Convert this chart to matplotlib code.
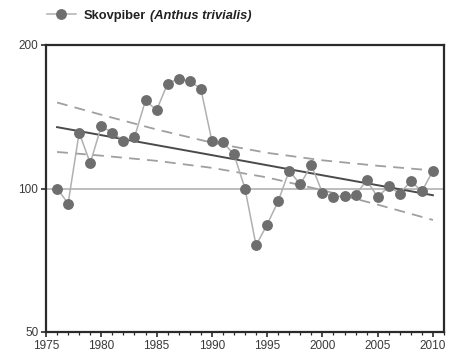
import matplotlib
matplotlib.use('Agg')
import matplotlib.pyplot as plt
from matplotlib.ticker import FixedLocator, MultipleLocator, NullLocator

plt.rcParams['font.family'] = ['Liberation Sans', 'DejaVu Sans']

# Index values (1976-2010)
years = list(range(1976, 2011))
index = [100, 93, 131, 113, 135, 131, 126, 128, 153, 146,
         166, 170, 168, 162, 126, 125, 118, 100, 76, 84,
         94, 109, 102, 112, 98, 96, 96.5, 97, 104, 96,
         101, 97.6, 103.6, 98.6, 109]

# Trend line and its confidence band
band_years = [1976, 1980, 1985, 1990, 1995, 2000, 2005, 2010]
trend = [134.5, 129.4, 123.3, 117.5, 111.9, 106.6, 101.6, 96.8]
upper = [151.5, 142.8, 133.0, 124.8, 118.8, 114.6, 111.6, 109.1]
lower = [119.3, 117.2, 114.3, 110.5, 105.5, 99.2, 92.5, 85.9]

species = 'Skovpiber'
latin = '(Anthus trivialis)'

fig = plt.figure(figsize=(4.54, 3.6), dpi=100)
ax = fig.add_axes([46 / 454, 1 - 332 / 360, 398 / 454, 287 / 360])

ax.axhline(100, color='#bdbdbd', lw=1.4, zorder=1)
ax.plot(band_years, upper, color='#a0a0a0', lw=1.3, ls=(0, (6, 4)), zorder=2)
ax.plot(band_years, lower, color='#a0a0a0', lw=1.3, ls=(0, (6, 4)), zorder=2)
ax.plot(band_years, trend, color='#4a4a4a', lw=1.4, zorder=3)
line, = ax.plot(years, index, color='#b0b0b0', lw=1.1, marker='o', ms=6.8,
                mfc='#6e6e6e', mec='#6e6e6e', zorder=4, label=species)

ax.set_yscale('log')
ax.set_ylim(50, 200)
ax.set_xlim(1975, 2011)
ax.yaxis.set_major_locator(FixedLocator([50, 100, 200]))
ax.yaxis.set_minor_locator(NullLocator())
ax.set_yticklabels(['50', '100', '200'])
ax.xaxis.set_major_locator(MultipleLocator(5))
ax.xaxis.set_minor_locator(MultipleLocator(1))

for s in ax.spines.values():
    s.set_linewidth(1.6)
    s.set_color('#2a2a2a')
ax.tick_params(axis='both', which='major', direction='out', length=3.5,
               width=1.2, color='#2a2a2a', labelsize=8.5, labelcolor='#3a3a3a', pad=2)
ax.tick_params(axis='x', which='minor', direction='out', length=2, width=0.9,
               color='#2a2a2a')

leg = fig.legend(handles=[line], loc='upper left', bbox_to_anchor=(35 / 454, 1 + 2 / 360),
                 frameon=False, handlelength=2.3, handletextpad=0.55,
                 prop={'weight': 'bold', 'size': 9.3})
leg_text = leg.get_texts()[0]
leg_text.set_color('#222222')
fig.canvas.draw()
ax.annotate(latin, xy=(1, 0), xycoords=leg_text, xytext=(3, 0),
            textcoords='offset points', ha='left', va='bottom',
            fontsize=9.3, fontweight='bold', fontstyle='italic', color='#222222',
            annotation_clip=False)

fig.savefig('out.png', dpi=100)
